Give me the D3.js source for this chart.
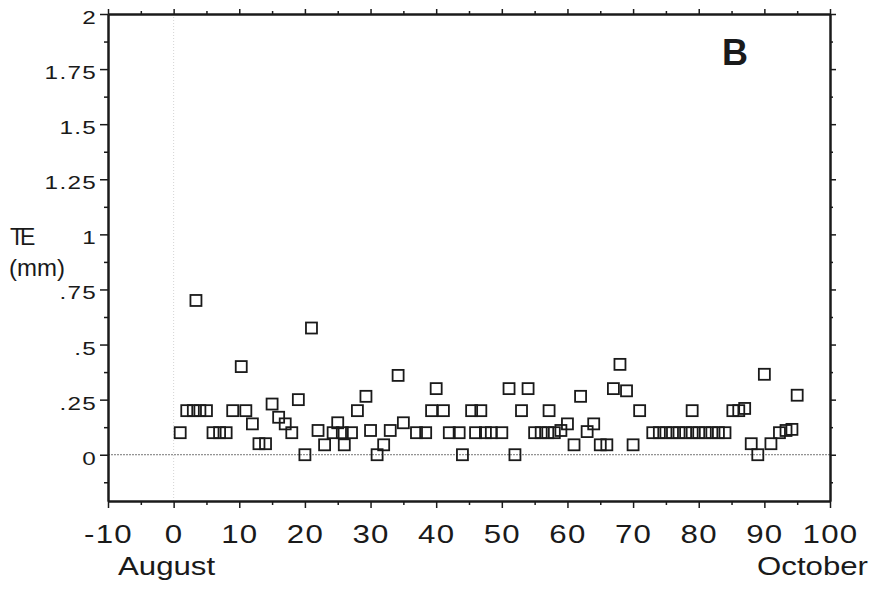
<!DOCTYPE html>
<html>
<head>
<meta charset="utf-8">
<script src="https://cdn.jsdelivr.net/npm/d3@7"></script>
<style>
    body { margin: 0; background: #fff; }
    svg { display: block; }
    text { font-family: "Liberation Sans", Arial, sans-serif; fill: #1a1a1a; }
</style>
</head>
<body>
<svg width="874" height="589"></svg>
<script>
// day of season (0 = 1 August) and TE in mm
var days = [1, 2, 3, 3.4, 4, 5, 6, 7, 8, 9, 10.3, 11, 12, 13, 14, 15, 16, 17, 18, 19,
    20, 21, 22, 23, 24.3, 25, 25.7, 26, 27.1, 28, 29.3, 30, 31, 32, 33, 34.2, 35, 37, 38.4, 39.3,
    40, 41.1, 42, 43.5, 44, 45.4, 46, 46.8, 47.5, 48.4, 50, 51.1, 52, 53, 54, 55, 56, 57, 57.2, 58,
    59, 60, 61, 62, 63, 64, 65, 66, 67, 68, 69, 70, 71, 73, 74, 75, 76, 77, 78, 79,
    79, 80, 81, 82, 83, 84, 85.2, 86.1, 87, 88, 89, 90, 91, 92.3, 93.3, 94.2, 95];
var te = [0.1, 0.2, 0.2, 0.7, 0.2, 0.2, 0.1, 0.1, 0.1, 0.2, 0.4, 0.2, 0.14, 0.05, 0.05, 0.23, 0.17, 0.14, 0.1, 0.25,
    0, 0.575, 0.11, 0.045, 0.1, 0.145, 0.1, 0.045, 0.1, 0.2, 0.265, 0.11, 0, 0.045, 0.11, 0.36, 0.145, 0.1, 0.1, 0.2,
    0.3, 0.2, 0.1, 0.1, 0, 0.2, 0.1, 0.2, 0.1, 0.1, 0.1, 0.3, 0, 0.2, 0.3, 0.1, 0.1, 0.1, 0.2, 0.1,
    0.11, 0.14, 0.045, 0.265, 0.105, 0.14, 0.045, 0.045, 0.3, 0.41, 0.29, 0.045, 0.2, 0.1, 0.1, 0.1, 0.1, 0.1, 0.1, 0.1,
    0.2, 0.1, 0.1, 0.1, 0.1, 0.1, 0.2, 0.2, 0.21, 0.05, 0, 0.365, 0.05, 0.1, 0.11, 0.115, 0.27];

var xTicks = [-10, 0, 10, 20, 30, 40, 50, 60, 70, 80, 90, 100];
var xLabels = ["-10", "0", "10", "20", "30", "40", "50", "60", "70", "80", "90", "100"];
var xMinor = [-5, 5, 15, 25, 35, 45, 55, 65, 75, 85, 95];
var yTicks = [0, 0.25, 0.5, 0.75, 1, 1.25, 1.5, 1.75, 2];
var yLabels = ["0", ".25", ".5", ".75", "1", "1.25", "1.5", "1.75", "2"];
var yMinor = [-0.125, 0.125, 0.375, 0.625, 0.875, 1.125, 1.375, 1.625, 1.875];

var svg = d3.select("svg");
var x = d3.scaleLinear().domain([-10, 100]).range([108, 830]);
var y = d3.scaleLinear().domain([-0.21, 2]).range([501, 14]);

// reference lines
svg.append("line")
    .attr("x1", x(0)).attr("x2", x(0))
    .attr("y1", y(2)).attr("y2", y(-0.21))
    .style("stroke", "#d4d4d4").style("stroke-dasharray", "1,2");
svg.append("line")
    .attr("x1", x(-10)).attr("x2", x(100))
    .attr("y1", y(0)).attr("y2", y(0))
    .style("stroke", "#777").style("stroke-dasharray", "2,1");

function styleAxis(g) {
    g.select(".domain").style("stroke", "#1a1a1a").style("stroke-width", 2);
    g.selectAll(".tick line").style("stroke", "#1a1a1a").style("stroke-width", 1.5);
}

// bottom
var gb = svg.append("g").attr("transform", "translate(0," + y(-0.21) + ")")
    .call(d3.axisBottom(x).tickValues(xTicks).tickSize(7).tickSizeOuter(0)
        .tickFormat(function (d, i) { return xLabels[i]; }));
gb.selectAll("text")
    .attr("dy", null).attr("y", 42)
    .style("font-size", "25px").style("letter-spacing", "1px")
    .attr("transform", "scale(1.25,1)");
svg.append("g").attr("transform", "translate(0," + y(-0.21) + ")")
    .call(d3.axisBottom(x).tickValues(xMinor).tickSize(4).tickFormat("").tickSizeOuter(0))
    .call(styleAxis);
gb.call(styleAxis);

// top
svg.append("g").attr("transform", "translate(0," + y(2) + ")")
    .call(d3.axisTop(x).tickValues(xTicks).tickSize(5).tickFormat("").tickSizeOuter(0))
    .call(styleAxis);
svg.append("g").attr("transform", "translate(0," + y(2) + ")")
    .call(d3.axisTop(x).tickValues(xMinor).tickSize(3).tickFormat("").tickSizeOuter(0))
    .call(styleAxis);

// left
var gl = svg.append("g").attr("transform", "translate(" + x(-10) + ",0)")
    .call(d3.axisLeft(y).tickValues(yTicks).tickSize(8).tickSizeOuter(0)
        .tickFormat(function (d, i) { return yLabels[i]; }));
gl.selectAll("text")
    .attr("dy", null).attr("y", 9.5).attr("x", -8)
    .style("font-size", "18px").style("letter-spacing", "1px")
    .attr("transform", "scale(1.35,1)");
gl.call(styleAxis);
svg.append("g").attr("transform", "translate(" + x(-10) + ",0)")
    .call(d3.axisLeft(y).tickValues(yMinor).tickSize(4).tickFormat("").tickSizeOuter(0))
    .call(styleAxis);

// right
svg.append("g").attr("transform", "translate(" + x(100) + ",0)")
    .call(d3.axisRight(y).tickValues(yTicks).tickSize(6).tickFormat("").tickSizeOuter(0))
    .call(styleAxis);
svg.append("g").attr("transform", "translate(" + x(100) + ",0)")
    .call(d3.axisRight(y).tickValues(yMinor).tickSize(3).tickFormat("").tickSizeOuter(0))
    .call(styleAxis);

// points
svg.append("g")
    .selectAll("rect")
    .data(days)
    .enter().append("rect")
    .attr("x", function (d) { return x(d) - 5.5; })
    .attr("y", function (d, i) { return y(te[i]) - 5.5; })
    .attr("width", 11).attr("height", 11)
    .style("fill", "none")
    .style("stroke", "#1a1a1a")
    .style("stroke-width", 1.8);

// labels
svg.append("text").attr("x", 10).attr("y", 245)
    .style("font-size", "23px").style("letter-spacing", "-4px").text("TE");
svg.append("text").attr("x", 9).attr("y", 276)
    .style("font-size", "24px").text("(mm)");
svg.append("text").attr("transform", "translate(118,575) scale(1.2,1)")
    .style("font-size", "26px").text("August");
svg.append("text").attr("transform", "translate(868,575) scale(1.2,1)")
    .attr("text-anchor", "end")
    .style("font-size", "26px").text("October");
svg.append("text").attr("x", 735).attr("y", 65)
    .attr("text-anchor", "middle")
    .style("font-size", "36px").style("font-weight", "bold").text("B");
</script>
</body>
</html>
